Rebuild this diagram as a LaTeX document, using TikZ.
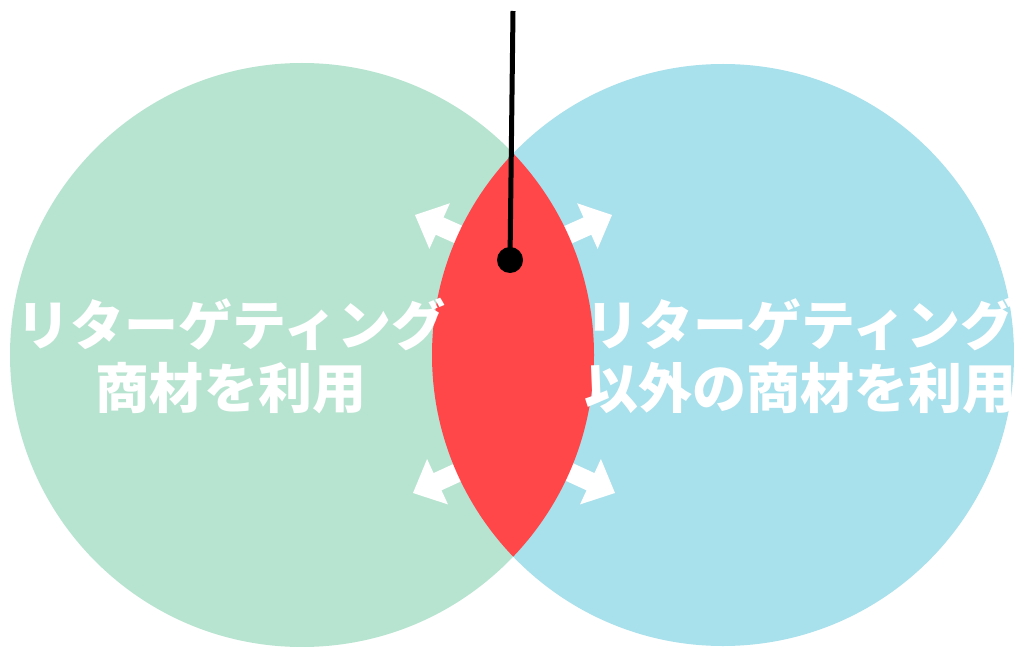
\documentclass[tikz,border=0pt]{standalone}
\usepackage{fontspec}
\newfontfamily\jp{Noto Sans CJK JP}
\definecolor{cgreen}{RGB}{183,228,208}
\definecolor{cblue}{RGB}{168,224,236}
\definecolor{cred}{RGB}{255,71,74}
\tikzset{
  lbl/.style={text=white, align=center, inner sep=0pt, font=\jp\bfseries\fontsize{54}{63}\selectfont},
  barrow/.pic={\fill[white] (0,0) -- (-27,25) -- (-27,9.5) -- (-70,9.5) -- (-70,-9.5) -- (-27,-9.5) -- (-27,-25) -- cycle;}
}
\begin{document}
\begin{tikzpicture}[x=1pt,y=-1pt]
\useasboundingbox (0,0) rectangle (1014,647);
\fill[cgreen] (302,355) circle (292);
\fill[cblue] (723,355) circle (291);
\pic[shift={(415,215)},rotate=155.8] {barrow};
\pic[shift={(612,215)},rotate=24.2] {barrow};
\pic[shift={(413,493)},rotate=204.7] {barrow};
\pic[shift={(615,493)},rotate=-24.7] {barrow};
\begin{scope}
\clip (302,355) circle (292);
\fill[cred] (723,355) circle (291);
\end{scope}
\node[lbl] (left) at (231,356) {リターゲティング\\商材を利用};
\node[lbl] (right) at (800,356) {リターゲティング\\以外の商材を利用};
\node[circle, fill=black, inner sep=0pt, minimum size=26pt] (dot) at (510,260) {};
\coordinate (top) at (513,11);
\draw[line width=5pt] (top) -- (dot.center);
\end{tikzpicture}
\end{document}
